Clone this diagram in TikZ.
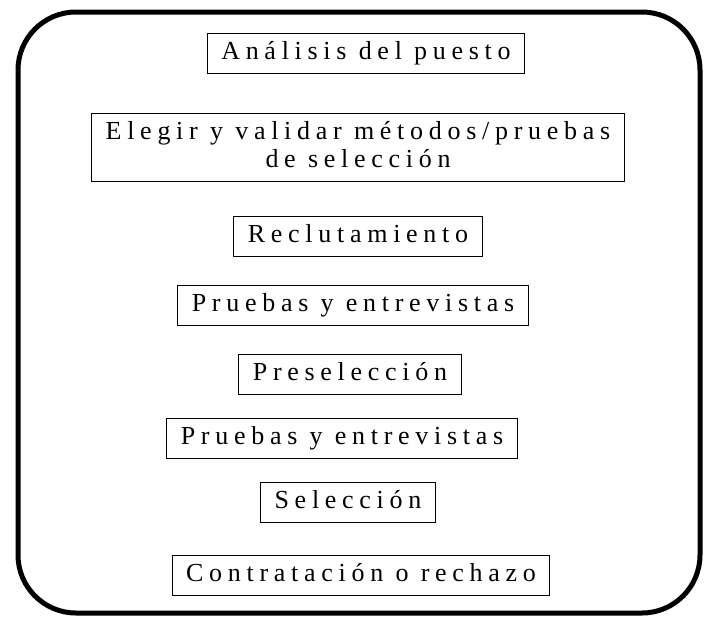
\documentclass[tikz,border=0pt]{standalone}
\usepackage{fontspec}
\usepackage{tikz}
\usetikzlibrary{positioning}
\newfontfamily\etapafont[LetterSpace=22]{Liberation Serif}

\begin{document}
\begin{tikzpicture}[
    etapa/.style={
      draw, rectangle, line width=0.9pt,
      font=\etapafont\fontsize{26}{28}\selectfont,
      inner xsep=14pt, inner ysep=8pt,
      text height=18pt, text depth=6pt, align=center
    }
]
  \useasboundingbox (0,0) rectangle (704pt,-619pt);

  % Marco redondeado
  \draw[line width=5pt, rounded corners=58pt] (18pt,-12pt) rectangle (700pt,-613pt);

  % Etapas
  \node[etapa] (n1) at (366pt,-53pt) {Análisis del puesto};
  \node[etapa, below=40pt of n1, xshift=-8pt, text height=46pt] (n2) {Elegir y validar métodos/pruebas\\de selección};
  \node[etapa, below=34pt of n2, xshift=0pt] (n3) {Reclutamiento};
  \node[etapa, below=28pt of n3, xshift=-5pt] (n4) {Pruebas y entrevistas};
  \node[etapa, below=28pt of n4, xshift=-3pt] (n5) {Preselección};
  \node[etapa, below=23pt of n5, xshift=-8pt] (n6) {Pruebas y entrevistas};
  \node[etapa, below=23pt of n6, xshift=6pt] (n7) {Selección};
  \node[etapa, below=32pt of n7, xshift=13pt] (n8) {Contratación o rechazo};
\end{tikzpicture}
\end{document}
